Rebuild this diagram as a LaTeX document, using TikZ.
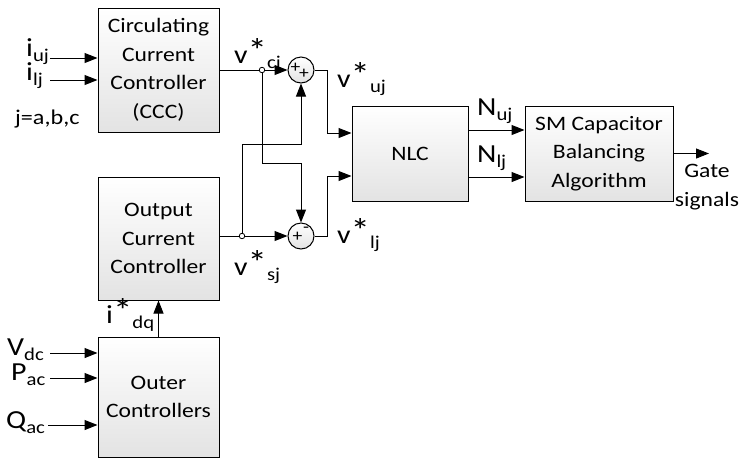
\documentclass[tikz,border=0pt]{standalone}
\usepackage{fontspec}
\setmainfont{Carlito}[FakeStretch=1.15]
\usetikzlibrary{arrows.meta,calc}
\newcommand\sbx[1]{\raisebox{-0.45ex}{\fontsize{18}{18}\selectfont #1}}
\newcommand\myast{\raisebox{0.05ex}{\scalebox{1.3}{*}}}
\begin{document}
\begin{tikzpicture}[x=1pt,y=-1pt,
  blk/.style={draw, line width=1pt, top color=white, bottom color=gray!22, align=center, inner sep=0pt,
    font=\fontsize{20.5}{28.5}\selectfont},
  ln/.style={line width=1pt},
  arr/.style={line width=1pt, -{Triangle[length=13pt,width=10pt]}},
  sumc/.style={circle, draw, line width=1pt, top color=white, bottom color=gray!22, minimum size=26pt, inner sep=0pt},
  lbl/.style={font=\fontsize{26}{26}\selectfont, inner sep=0pt},
  sgn/.style={font=\fontsize{17}{17}\selectfont, inner sep=0pt},
  dotc/.style={circle, draw, fill=white, line width=0.8pt, minimum size=5.5pt, inner sep=0pt}]
\useasboundingbox (0,0) rectangle (741,459);

% blocks
\node[blk, minimum width=121pt, minimum height=124pt] (ccc) at (158.5,70) {Circulating\\Current\\Controller\\(CCC)};
\node[blk, minimum width=121pt, minimum height=123pt] (occ) at (158.5,238.5) {Output\\Current\\Controller};
\node[blk, minimum width=121pt, minimum height=120pt] (out) at (158.5,397) {Outer\\Controllers};
\node[blk, minimum width=116pt, minimum height=95pt] (nlc) at (410,153.5) {NLC};
\node[blk, minimum width=148pt, minimum height=95pt] (sm) at (599,153.5) {SM Capacitor\\Balancing\\Algorithm};

% summing junctions
\node[sumc] (s1) at (301,70) {};
\node[sumc] (s2) at (301,236) {};
\node[sgn] at ($(s1)+(-5.5,-2.5)$) {+};
\node[sgn] at ($(s1)+(3,4)$) {+};
\node[sgn] at ($(s2)+(-3.5,1)$) {+};
\node[sgn] at ($(s2)+(5,-6)$) {-};

% junction dots
\coordinate (d1) at (262,70);
\coordinate (d2) at (242,236);
\coordinate (k1) at (301,163);
\coordinate (k2) at (301,144);
\coordinate (b1) at (327,133);
\coordinate (b2) at (327,176);

\draw[ln] (ccc.east |- d1) -- (d1);
\draw[arr] (d1) -- (s1.west);
\draw[ln] (occ.east |- d2) -- (d2);
\draw[arr] (d2) -- (s2.west);
\draw[arr] (d1) |- (k1) -- (s2.north);
\draw[arr] (d2) |- (k2) -- (s1.south);
\node[dotc] at (d1) {};
\node[dotc] at (d2) {};

\draw[arr] (s1.east) -| (b1) -- (nlc.west |- b1);
\draw[arr] (s2.east) -| (b2) -- (nlc.west |- b2);

% N outputs
\coordinate (n1) at (496,130);
\coordinate (n2) at (496,177);
\draw[arr] (nlc.east |- n1) -- (sm.west |- n1);
\draw[arr] (nlc.east |- n2) -- (sm.west |- n2);

% gate
\coordinate (g) at (709,153.5);
\draw[arr] (sm.east) -- (g);
\node[font=\fontsize{20.5}{28.5}\selectfont, align=center, inner sep=0pt] (gt) at (707,187) {Gate\\signals};

% inputs
\coordinate (iu) at (50,58);
\coordinate (il) at (50,80);
\draw[arr] (iu) -- (ccc.west |- iu);
\draw[arr] (il) -- (ccc.west |- il);
\coordinate (vd) at (50,353);
\coordinate (pa) at (50,378);
\coordinate (qa) at (48,425);
\draw[arr] (vd) -- (out.west |- vd);
\draw[arr] (pa) -- (out.west |- pa);
\draw[arr] (qa) -- (out.west |- qa);
\draw[arr] (out.north) -- (occ.south);

% labels
\node[lbl, anchor=base west] (liu) at (26,56) {i\sbx{uj}};
\node[lbl, anchor=base west] (lil) at (26,80) {i\sbx{lj}};
\node[font=\fontsize{21}{21}\selectfont, inner sep=0pt, anchor=base west] (lj) at (15,124) {j=a,b,c};
\node[lbl, anchor=base west] (lvc) at (234,63) {v\myast\sbx{cj}};
\node[lbl, anchor=base west] (lvu) at (337,87) {v\myast\sbx{uj}};
\node[lbl, anchor=base west] (lvl) at (337,243) {v\myast\sbx{lj}};
\node[lbl, anchor=base west] (lvs) at (234,275) {v\myast\sbx{sj}};
\node[lbl, anchor=base west] (lnu) at (477,115) {N\sbx{uj}};
\node[lbl, anchor=base west] (lnl) at (477,162) {N\sbx{lj}};
\node[lbl, anchor=base west] (lid) at (106,323) {i\myast\sbx{dq}};
\node[lbl, anchor=base west] (lvd) at (7,355) {V\sbx{dc}};
\node[lbl, anchor=base west] (lpa) at (11,380) {P\sbx{ac}};
\node[lbl, anchor=base west] (lqa) at (6,428) {Q\sbx{ac}};
\end{tikzpicture}
\end{document}
